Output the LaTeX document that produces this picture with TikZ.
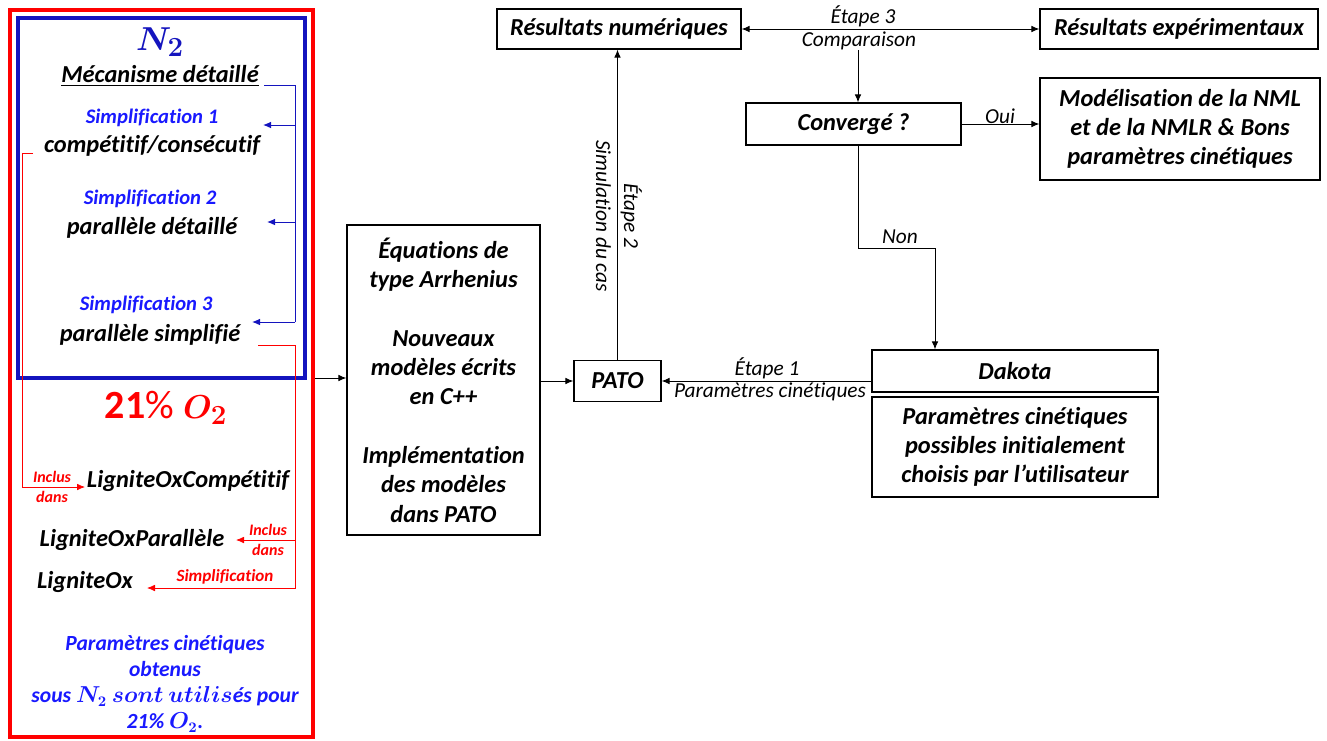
\documentclass[tikz,border=0pt]{standalone}
\usepackage{amsmath}
\usepackage{fontspec}
\setmainfont{Carlito}[Ligatures=NoCommon]
\usetikzlibrary{arrows.meta}
\definecolor{dblue}{RGB}{20,20,190}
\definecolor{tblue}{RGB}{25,25,255}
\definecolor{tred}{RGB}{255,0,0}
\begin{document}
\begin{tikzpicture}[x=0.75pt,y=-0.75pt,
 box/.style={draw, line width=0.9pt, align=center, inner sep=0pt, font=\bfseries\itshape\fontsize{18.3}{22}\selectfont},
 lab/.style={inner sep=1pt, font=\itshape\fontsize{16}{18}\selectfont},
 txt/.style={inner sep=0pt, font=\bfseries\itshape\fontsize{18.3}{20}\selectfont},
 simp/.style={inner sep=0pt, text=tblue, font=\bfseries\itshape\fontsize{15.5}{18}\selectfont},
 rlab/.style={inner sep=0pt, text=tred, align=center, font=\bfseries\itshape\fontsize{12}{15}\selectfont},
 arr/.style={-{Latex[length=6pt,width=5pt]}, line width=0.75pt},
 barr/.style={arr, dblue},
 rarr/.style={arr, tred, line width=0.6pt},
 darr/.style={{Latex[length=6pt,width=5pt]}-{Latex[length=6pt,width=5pt]}, line width=0.75pt}]
\useasboundingbox (0,0) rectangle (1327,740);

% ---------- left panel ----------
\node[draw=tred, line width=2.3pt, minimum width=303*0.75pt, minimum height=727*0.75pt, inner sep=0] (redbox) at (161.5,373.5) {};
\node[draw=dblue, line width=2.3pt, minimum width=287*0.75pt, minimum height=360*0.75pt, inner sep=0] (bluebox) at (161.5,198) {};

\node[inner sep=0, text=dblue, font=\fontsize{29}{32}\selectfont] (n2) at (160,42) {$\boldsymbol{N_{\mathbf 2}}$};
\node[txt] (mec) at (160,76) {\underline{Mécanisme détaillé}};
\node[simp] (s1) at (152,118) {Simplification 1};
\node[txt] (c1) at (152,146) {compétitif/consécutif};
\node[simp] (s2) at (150,199) {Simplification 2};
\node[txt] (c2) at (152,228) {parallèle détaillé};
\node[simp] (s3) at (146,305) {Simplification 3};
\node[txt] (c3) at (150,335) {parallèle simplifié};

\coordinate (bA) at (264,85);
\coordinate (bB) at (295,85);
\coordinate (bC) at (295,322);
\coordinate (e1) at (263,125);
\coordinate (e2) at (267,222);
\coordinate (e3) at (252,322);
\draw[dblue, line width=0.75pt] (bA) -- (bB) -- (bC);
\draw[barr] (e1 -| bB) -- (e1);
\draw[barr] (e2 -| bB) -- (e2);
\draw[barr] (bC) -- (e3);

\node[inner sep=0, text=tred, font=\fontsize{30}{34}\selectfont] (o2) at (166,408) {$\mathbf{21\%}\;\boldsymbol{O_{\mathbf 2}}$};

\node[txt] (lc) at (188,481) {LigniteOxCompétitif};
\node[txt] (lp) at (132,540) {LigniteOxParallèle};
\node[txt] (lo) at (85,582) {LigniteOx};

\coordinate (r1a) at (33,153);
\coordinate (r1b) at (22,153);
\coordinate (r1c) at (22,487);
\coordinate (r1d) at (85,487);
\draw[rarr] (r1a) -- (r1b) -- (r1c) -- (r1d);
\node[rlab] (inc1) at (52,487) {Inclus\\dans};

\coordinate (r2a) at (258,345);
\coordinate (r2b) at (295,345);
\coordinate (r2c) at (295,588);
\coordinate (r2d) at (147,588);
\coordinate (r2e) at (236,540);
\draw[rarr] (r2a) -- (r2b) -- (r2c) -- (r2d);
\draw[rarr] (r2e -| r2b) -- (r2e);
\node[rlab] (inc2) at (268,540) {Inclus\\dans};
\node[rlab, font=\bfseries\itshape\fontsize{12.8}{15}\selectfont] (simpl) at (225,577) {Simplification};

\node[inner sep=0, text=tblue, align=center, font=\bfseries\itshape\fontsize{16.2}{19.5}\selectfont] (bottom) at (165,684)
 {Paramètres cinétiques\\obtenus\\sous $\boldsymbol{N_{\mathbf 2}\ sont\ utilis}$és pour\\21\% $\boldsymbol{O_{\mathbf 2}}$.};

% ---------- middle ----------
\node[box, minimum width=193*0.75pt, minimum height=310*0.75pt] (eq) at (443.5,380)
 {Équations de\\type Arrhenius\\[22pt]Nouveaux\\modèles écrits\\en C++\\[22pt]Implémentation\\des modèles\\dans PATO};
\coordinate (rb) at (315,378);
\draw[arr] (rb) -- (rb -| eq.west);

\node[box, minimum width=87*0.75pt, minimum height=41*0.75pt] (pato) at (617.5,381) {PATO};
\draw[arr] (eq.east |- pato) -- (pato.west);

\node[box, minimum width=244*0.75pt, minimum height=40*0.75pt] (resnum) at (619,29) {Résultats numériques};
\node[box, minimum width=278*0.75pt, minimum height=40*0.75pt] (resexp) at (1179,29) {Résultats expérimentaux};
\draw[darr] (resnum.east) -- (resexp.west);
\node[lab] (et3) at (863,16) {Étape 3};
\node[lab] (cmp) at (859,41) {Comparaison};

\draw[arr] (pato.north) -- (pato.north |- resnum.south);
\node[lab, rotate=-90, align=center, font=\itshape\fontsize{16}{21}\selectfont] (et2) at (619,216) {Étape 2\\Simulation du cas};

\node[box, minimum width=215*0.75pt, minimum height=42*0.75pt] (conv) at (853.5,124) {Convergé ?};
\coordinate (cv) at (858,50);
\draw[arr] (cv) -- (cv |- conv.north);

\node[box, minimum width=280*0.75pt, minimum height=102*0.75pt] (model) at (1180,129)
 {Modélisation de la NML\\et de la NMLR \& Bons\\paramètres cinétiques};
\draw[arr] (conv.east) -- (conv.east -| model.west);
\node[lab] (oui) at (1000,116) {Oui};

\node[box, minimum width=286*0.75pt, minimum height=42*0.75pt] (dakota) at (1015,371) {Dakota};
\node[box, minimum width=286*0.75pt, minimum height=100*0.75pt] (params) at (1015,447)
 {Paramètres cinétiques\\possibles initialement\\choisis par l’utilisateur};

\coordinate (cs) at (858,145);
\coordinate (nb) at (935,248);
\draw[arr] (cs) |- (nb) -- (nb |- dakota.north);
\node[lab] (non) at (900,237) {Non};

\draw[arr] (pato.east -| dakota.west) -- (pato.east);
\node[lab] (et1) at (767,368) {Étape 1};
\node[lab] (pc) at (770,392) {Paramètres cinétiques};
\end{tikzpicture}
\end{document}
